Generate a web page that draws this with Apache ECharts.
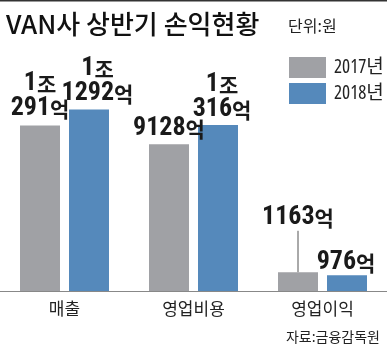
<!DOCTYPE html>
<html><head><meta charset="utf-8">
<script src="https://cdn.jsdelivr.net/npm/echarts@6/dist/echarts.min.js"></script>
<style>html,body{margin:0;padding:0;background:#fff}#c{width:387px;height:349px}</style>
</head><body><div id="c"></div>
<script>
const categories = ['매출', '영업비용', '영업이익'];
const seriesNames = ['2017년', '2018년'];
const values2017 = [10291, 9128, 1163];
const values2018 = [11292, 10316, 976];
const labels2017 = ['1조\n291억', '9128억', '1163억'];
const labels2018 = ['1조\n1292억', '1조\n316억', '976억'];

const NUM_FONT = '"Roboto Condensed", "Noto Sans CJK KR", sans-serif';
const LEG_FONT = '"Open Sans", "Noto Sans CJK KR", sans-serif';
const KR_FONT = '"Noto Sans CJK KR", sans-serif';
// label placement tweaks: [dx, distance]
const place2017 = [[-5, 4], [-11, 3], [-1.5, 3]];
const place2018 = [[8.5, 3], [4, 3], [-1, 0]];

function toRich(s) {
  return s.split('\n').map(line => {
    const parts = line.match(/[0-9]+|[^0-9]+/g) || [];
    return parts.map(p => /^[0-9]+$/.test(p) ? '{n|' + p + '}' : '{u|' + p + '}').join('');
  }).join('\n');
}
const rich = {
  n: { fontFamily: NUM_FONT, fontSize: 26, fontWeight: 'bold', color: '#1a1a1a', lineHeight: 25 },
  u: { fontFamily: KR_FONT, fontSize: 21, fontWeight: 'bold', color: '#1a1a1a', lineHeight: 25 }
};

function mk(vals, labels, place, leaderIdx) {
  return vals.map((v, i) => ({
    value: v,
    label: { formatter: toRich(labels[i]), offset: [place[i][0], 0], distance: place[i][1] },
    labelLine: { show: i === leaderIdx }
  }));
}

const chart = echarts.init(document.getElementById('c'), null, { renderer: 'canvas' });
chart.setOption({
  animation: false,
  backgroundColor: '#fff',
  title: [
    { text: 'VAN사 상반기 손익현황', left: 1, top: 6,
      textStyle: { fontFamily: KR_FONT, fontSize: 26, fontWeight: 500, color: '#111' } },
    { text: '단위:원', left: 283, top: 13,
      textStyle: { fontFamily: KR_FONT, fontSize: 16, fontWeight: 'normal', color: '#222' } },
    { text: '자료:금융감독원', right: 2, bottom: 0,
      textStyle: { fontFamily: KR_FONT, fontSize: 14, fontWeight: 'normal', color: '#222' } }
  ],
  legend: {
    data: seriesNames, left: 284, top: 52, orient: 'vertical',
    itemWidth: 37, itemHeight: 21, itemGap: 5, icon: 'rect',
    textStyle: { fontFamily: LEG_FONT, fontSize: 19, fontWeight: 'normal condensed', color: '#222', padding: [0, 0, 0, 3] }
  },
  grid: { left: -12, width: 414, top: 98, bottom: 58 },
  xAxis: {
    type: 'category', data: categories,
    axisLine: { show: true, lineStyle: { color: '#888', width: 1 } },
    axisTick: { show: false },
    axisLabel: { fontFamily: KR_FONT, fontSize: 17, color: '#222', margin: 9 }
  },
  yAxis: { type: 'value', min: 0, max: 12000, show: false, splitLine: { show: false } },
  series: [
    { name: seriesNames[0], type: 'bar', barWidth: 40, barGap: '22.5%',
      itemStyle: { color: '#a0a1a5' },
      data: mk(values2017, labels2017, place2017, 2),
      label: { show: true, position: 'top', rich: rich },
      labelLayout: function (p) { return p.dataIndex === 2 ? { dy: -39 } : {}; },
      labelLine: { show: false, lineStyle: { color: '#555', width: 1 } }
    },
    { name: seriesNames[1], type: 'bar', barWidth: 40,
      itemStyle: { color: '#5589bb' },
      data: mk(values2018, labels2018, place2018, -1),
      label: { show: true, position: 'top', rich: rich }
    }
  ],
  graphic: [
    { type: 'rect', shape: { x: 0, y: 0, width: 387, height: 1.5 }, style: { fill: '#333' } }
  ]
});
</script></body></html>
